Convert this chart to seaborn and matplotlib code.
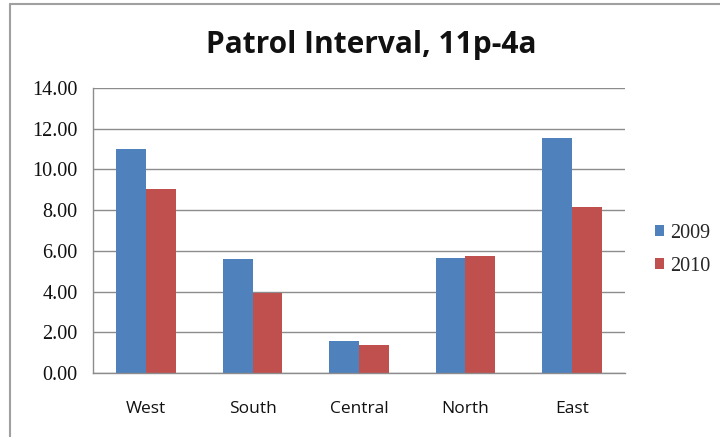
import pandas as pd
import matplotlib.pyplot as plt
import seaborn as sns
from matplotlib.lines import Line2D
from matplotlib.patches import Patch

# data
regions = ["West", "South", "Central", "North", "East"]
y2009 = [11.00, 5.60, 1.56, 5.66, 11.52]
y2010 = [9.03, 3.93, 1.38, 5.77, 8.15]
years = ["2009", "2010"]
colors = ["#4F81BD", "#C0504D"]

df = pd.DataFrame({
    "Region": regions * 2,
    "Year": [years[0]] * len(regions) + [years[1]] * len(regions),
    "Interval": y2009 + y2010,
})

sns.set_style("white")
plt.rcParams["font.family"] = ["Open Sans", "DejaVu Sans"]

fig = plt.figure(figsize=(7.2, 4.37), dpi=100)
ax = fig.add_axes([93 / 720, 1 - 373 / 437, 532 / 720, 285 / 437])

sns.barplot(data=df, x="Region", y="Interval", hue="Year", palette=colors,
            width=0.56, saturation=1, linewidth=0, ax=ax, legend=False)

ax.set_ylim(0, 14)
ax.set_xlim(-0.5, len(regions) - 0.5)
ax.set_yticks(range(0, 15, 2))
ax.set_yticklabels([f"{v:.2f}" for v in range(0, 15, 2)],
                   family="Liberation Serif", fontsize=14.5, color="#111111")
ax.set_xticks(range(len(regions)))
ax.set_xticklabels(regions, fontsize=12.5, color="#111111")
ax.set_xlabel("")
ax.set_ylabel("")
ax.yaxis.grid(True, color="#8C8C8C", linewidth=1)
ax.set_axisbelow(True)

# tick marks between categories like Excel
ax.set_xticks([i - 0.5 for i in range(len(regions) + 1)], minor=True)
ax.tick_params(axis="x", which="major", length=0, pad=20)
ax.tick_params(axis="x", which="minor", length=5, color="#8C8C8C", direction="out")
ax.tick_params(axis="y", length=5, color="#8C8C8C", direction="out", pad=6)

for side in ["top", "right"]:
    ax.spines[side].set_visible(False)
for side in ["left", "bottom"]:
    ax.spines[side].set_color("#8C8C8C")
    ax.spines[side].set_linewidth(1)

fig.text(371 / 720, 1 - 45 / 437, "Patrol Interval, 11p-4a", ha="center", va="center",
         fontsize=21.5, fontweight="bold", color="#111111")

handles = [Patch(facecolor=c, edgecolor="none") for c in colors]
fig.legend(handles, years, loc="center left", bbox_to_anchor=(655 / 720, 1 - 250 / 437),
           frameon=False, prop={"family": "Liberation Serif", "size": 14.5},
           handlelength=0.45, handleheight=0.45, handletextpad=0.3, labelspacing=0.7,
           borderaxespad=0, borderpad=0)

# chart frame (left and top edges visible)
fig.add_artist(Line2D([10 / 720, 10 / 720], [0, 1 - 3.5 / 437], transform=fig.transFigure,
                      color="#A0A0A0", linewidth=1.5))
fig.add_artist(Line2D([10 / 720, 1], [1 - 3.5 / 437, 1 - 3.5 / 437], transform=fig.transFigure,
                      color="#A0A0A0", linewidth=1.5))

fig.savefig("out.png", dpi=100)
